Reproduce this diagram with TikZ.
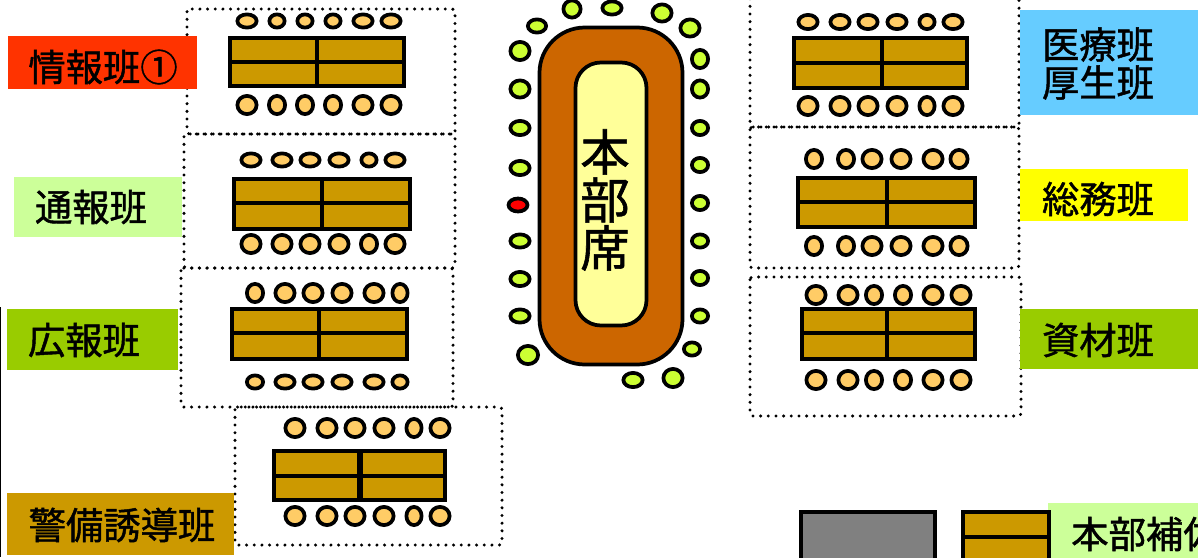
\documentclass[tikz,border=0pt]{standalone}
\usepackage{fontspec}
\setmainfont[FakeBold=1.2]{Noto Sans CJK JP}
\usetikzlibrary{calc}
\definecolor{seatc}{HTML}{FFCC66}
\definecolor{greenc}{HTML}{CCFF33}
\definecolor{tablec}{HTML}{CC9900}
\definecolor{hqc}{HTML}{CC6600}
\definecolor{hqin}{HTML}{FFFF99}
\definecolor{lred}{HTML}{FF3300}
\definecolor{lpale}{HTML}{CCFF99}
\definecolor{lolive}{HTML}{99CC00}
\definecolor{lblue}{HTML}{66CCFF}
\definecolor{lyellow}{HTML}{FFFF00}
\definecolor{redseat}{HTML}{FF0000}
\definecolor{tgray}{HTML}{808080}
\tikzset{
  zone/.style={line width=2.5pt,line cap=round,dash pattern=on 0pt off 5.75pt,rounded corners=2pt},
  seatline/.style={draw=black,line width=2.8pt},
  tableline/.style={draw=black,line width=3.1pt},
  tableinner/.style={draw=black,line width=2.5pt},
  tlabel/.style={anchor=center,inner sep=0pt,font=\fontsize{28}{32}\selectfont,text=black,align=left}
}
\newcommand{\seatrow}[3]{\foreach \sx/\sr in {#2}{\filldraw[seatline,fill=seatc] (\sx,#1) ellipse [x radius=\sr-1.9,y radius=#3-1.9];}}
\newcommand{\gseat}[4]{\filldraw[seatline,fill=greenc] (#1,#2) ellipse [x radius=#3-1.9,y radius=#4-1.9];}
\newcommand{\tbl}[6]{\filldraw[tableline,fill=tablec] (#1+2,#2+2) rectangle (#3-2,#4-2);
  \draw[tableinner] (#5,#2) -- (#5,#4) (#1,#6) -- (#3,#6);}
\newcommand{\zonebox}[4]{\draw[zone] (#1,#2) rectangle (#3,#4);}
\begin{document}
\begin{tikzpicture}[x=0.75pt,y=-0.75pt]
\useasboundingbox (0,0) rectangle (1198,557);
\clip (0,0) rectangle (1198,557);
\fill[white] (0,0) rectangle (1198,557);
\draw[black,line width=1.2pt] (0,307) -- (0,557);
% zones
\zonebox{187}{9}{455}{134}
\zonebox{184}{134}{455}{268}
\zonebox{181}{268}{453}{407}
\zonebox{235}{407}{502}{545}
\zonebox{750}{-4}{1019}{127}
\zonebox{750}{127}{1019}{268}
\zonebox{750}{277}{1021}{416}
% labels
\fill[lred] (8,36) rectangle (197,89);
\node[tlabel] (joho) at (103,67) {情報班①};
\fill[lpale] (14,177) rectangle (182,237);
\node[tlabel] (tsuho) at (91,207) {通報班};
\fill[lolive] (7,309) rectangle (178,370);
\node[tlabel] (koho) at (84,340) {広報班};
\fill[tablec] (7,493) rectangle (234,555);
\node[tlabel] (keibi) at (122,525) {警備誘導班};
\fill[lblue] (1020,10) rectangle (1198,115);
\node[tlabel,font=\fontsize{28}{28.5}\selectfont] (iryo) at (1098,63.5) {医療班\\厚生班};
\fill[lyellow] (1020,169) rectangle (1188,221);
\node[tlabel] (somu) at (1098,199) {総務班};
\fill[lolive] (1020,309) rectangle (1198,369);
\node[tlabel] (shizai) at (1098,340) {資材班};
% tables
\tbl{228}{36}{406}{88}{317}{62}
\seatrow{21}{247/11.5,277/9.5,305/9.5,333/9.5,363/11.5,391/11.5}{8.5}
\seatrow{105}{247/11.5,277/10,305/10,333/10,363/11.5,391/11.5}{11}
\tbl{232}{177}{412}{231}{322}{203}
\seatrow{160}{251/11.5,282/11.5,310/11.5,339/11.5,369/9.5,395/11.5}{8.5}
\seatrow{244}{251/11.5,282/11.5,310/11.5,339/11.5,369/10,395/11.5}{11}
\tbl{230}{307}{409}{361}{319}{333}
\seatrow{293}{255/10,285/11.5,313/11.5,342/11.5,374/11.5,400/9.5}{11}
\seatrow{382}{255/10,285/11.5,313/11.5,342/11.5,374/11.5,400/9.5}{8.5}
\tbl{272}{449}{447}{502}{360}{476}
\draw[black,line width=4pt] (360,449) -- (360,502);
\seatrow{428}{295/11.5,327/11.5,355/11.5,384/11.5,414/9.5,440/11.5}{11}
\seatrow{516}{295/11.5,327/11.5,355/11.5,384/11.5,414/9.5,440/11.5}{11}
\tbl{792}{36}{969}{90}{882}{63}
\seatrow{22}{808/11.5,840/11.5,868/11.5,897/11.5,927/9.5,953/11.5}{9}
\seatrow{106}{808/11.5,840/11.5,868/11.5,897/11.5,927/9.5,953/11.5}{11}
\tbl{796}{176}{977}{229}{887}{202}
\seatrow{159}{814/10,846/10,872/11.5,901/11.5,933/11.5,959/10.5}{11}
\seatrow{246}{814/10,846/10,872/11.5,901/11.5,933/11.5,959/10.5}{11}
\tbl{800}{307}{977}{361}{887}{333}
\seatrow{295}{816/11.5,848/11.5,874/10,903/10,933/11.5,961/11.5}{11}
\seatrow{380}{816/11.5,848/11.5,874/10,903/10,933/11.5,961/11.5}{11}
% headquarters table
\filldraw[seatline,fill=hqc,rounded corners=34pt] (539.5,27.5) rectangle (682.5,364.5);
\filldraw[seatline,fill=hqin,rounded corners=19pt] (575.5,62.5) rectangle (646.5,325.5);
\node[tlabel,font=\fontsize{37}{36}\selectfont,align=center] (honbu) at (605,200) {本\\部\\席};
% HQ seats
\foreach \gx/\gy/\grx/\gry in {
 572/9/10.5/10.5, 612/8/11.5/8.5, 662/13/11.5/10.5, 690/28/11.5/10.5, 537/26/11/8.5, 520/51/11.5/11,
 700/59/10/11, 520/89/11.5/10.5, 700/89/10/10.5, 520/128/11.5/9, 700/128/10/9,
 520/168/11.5/9, 700/165/10/9, 700/203/10/9, 520/241/11.5/8.5, 700/241/10/8.5,
 520/279/11.5/9, 700/278/10/9, 520/316/11.5/8.5, 700/316/10/8.5, 528/355/12/11,
 692/349/10/8.5, 633/380/11.5/9, 673/378/11.5/11}{\gseat{\gx}{\gy}{\grx}{\gry}}
\filldraw[seatline,fill=redseat] (518,205) ellipse [x radius=9.5,y radius=6.5];
% bottom right
\filldraw[line width=3pt,draw=black,fill=tgray] (801,512) rectangle (935,570);
\fill[lpale] (1048,503) rectangle (1210,570);
\tbl{961}{510}{1051}{570}{1000}{537}
\fill[tablec] (965,514) rectangle (1047,535);
\fill[tablec] (965,539) rectangle (1047,566);
\node[tlabel,anchor=west] (hosa) at (1071,534) {本部補佐};
\end{tikzpicture}
\end{document}
